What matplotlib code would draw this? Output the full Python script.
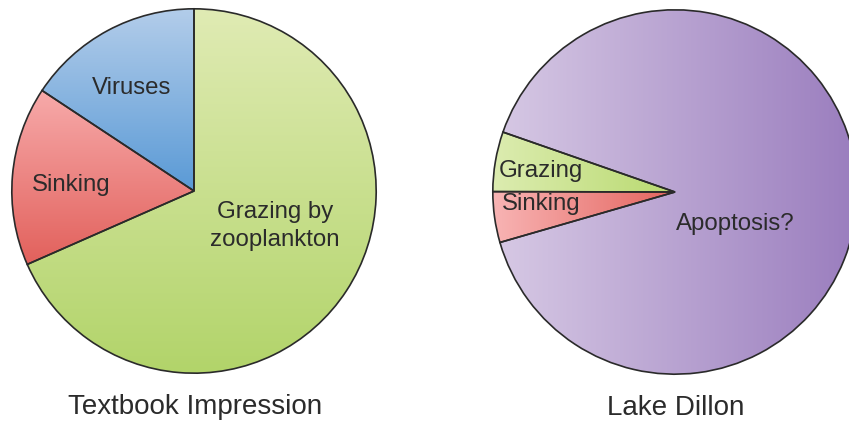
import matplotlib
matplotlib.use("Agg")
import matplotlib.pyplot as plt
import numpy as np
from matplotlib.colors import LinearSegmentedColormap

plt.rcParams['font.family'] = ['Liberation Sans', 'DejaVu Sans']

# data (percent of slice)
left_labels = ['Viruses', 'Sinking', 'Grazing by\nzooplankton']
left_values = [15.7, 15.9, 68.4]
right_labels = ['Grazing', 'Sinking', 'Apoptosis?']
right_values = [5.3, 4.5, 90.2]
titles = ['Textbook Impression', 'Lake Dillon']

# gradient ends (light, dark) and direction per slice
left_grad = [('#b3cdea', '#5a9ad6', 'v'), ('#f7aaaa', '#e2615c', 'v'), ('#e0ebb4', '#b2d46a', 'v')]
right_grad = [('#dcecb0', '#b9da70', 'h'), ('#f8b4b4', '#e4645e', 'h'), ('#d6c8e4', '#9a7dbe', 'h')]

W, H = 849, 425
R = 184
fig = plt.figure(figsize=(W / 100, H / 100), dpi=100)
fig.patch.set_facecolor('white')


def pie_axes(cx, cy):
    ax = fig.add_axes([(cx - R) / W, (H - cy - R) / H, 2 * R / W, 2 * R / H])
    ax.set_aspect('equal')
    ax.axis('off')
    return ax


def draw_pie(ax, values, grads, start):
    wedges, _ = ax.pie(values, startangle=start, counterclock=True, radius=1,
                       wedgeprops=dict(linewidth=1.2, edgecolor='#2a2a2a'))
    for w, (c0, c1, d) in zip(wedges, grads):
        w.set_facecolor('none')
        bb = w.get_path().get_extents()
        cmap = LinearSegmentedColormap.from_list('g', [c0, c1])
        if d == 'v':
            g = np.linspace(0, 1, 256).reshape(-1, 1)  # top light -> bottom dark
            org = 'upper'
        else:
            g = np.linspace(0, 1, 256).reshape(1, -1)  # left light -> right dark
            org = 'lower'
        im = ax.imshow(g, cmap=cmap, extent=[bb.x0, bb.x1, bb.y0, bb.y1],
                       origin=org, aspect='auto', zorder=0, interpolation='bilinear')
        im.set_clip_path(w)
        w.set_zorder(2)
    ax.set_xlim(-1.01, 1.01)
    ax.set_ylim(-1.01, 1.01)
    return wedges


axL = pie_axes(194, 191)
draw_pie(axL, left_values, left_grad, 90)
axR = pie_axes(675, 192)
draw_pie(axR, right_values, right_grad, 160.8)

tc = '#2b2b2b'
fs = 17.3


def put(px, py, s, size=fs):
    fig.text(px / W, 1 - py / H, s, ha='center', va='center', fontsize=size,
             color=tc, linespacing=1.4)


put(132, 88, left_labels[0])
put(71, 185, left_labels[1])
put(275, 226, left_labels[2])
put(541, 171, right_labels[0])
put(541, 204, right_labels[1])
put(735, 224, right_labels[2])
put(195, 407, titles[0], 20)
put(676, 408, titles[1], 20)

fig.savefig('out.png', dpi=100)
